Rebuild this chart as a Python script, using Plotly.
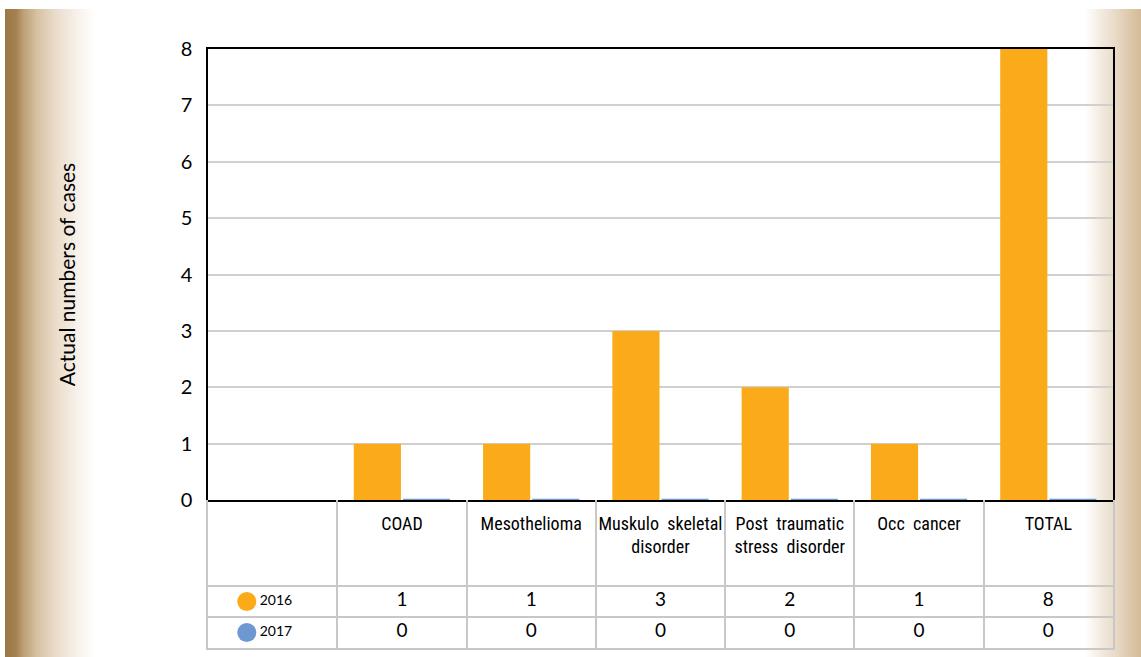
"""Occupational disease cases by type, 2016 vs 2017."""

import base64

import plotly.graph_objects as go

# data
categories = ["", "COAD", "Mesothelioma", "Muskulo skeletal disorder",
              "Post traumatic stress disorder", "Occ cancer", "TOTAL"]
header_labels = ["", "COAD", "Mesothelioma", "Muskulo  skeletal<br>disorder",
                 "Post  traumatic<br>stress  disorder", "Occ  cancer", "TOTAL"]
years = ["2016", "2017"]
cases_2016 = [None, 1, 1, 3, 2, 1, 8]
cases_2017 = [None, 0, 0, 0, 0, 0, 0]

COLORS = {"2016": "#FBAB1A", "2017": "#6E99D0"}
GRID = "#C8C8C8"

# the snapshot comes out squeezed vertically by 657/669, so lay out in a
# slightly taller page and let the squeeze bring it back
SY = 669 / 657
W, H = 1141, round(657 * SY)
M = dict(l=208, r=28, t=round(48 * SY), b=round(10 * SY))
PW = W - M["l"] - M["r"]
PH = H - M["t"] - M["b"]

# table geometry (pixels): header row + one row per year
HEADER_H, ROW_H = 86 * SY, 31 * SY
TABLE_H = HEADER_H + ROW_H * len(years)
table_top = TABLE_H / PH
row_mid = [TABLE_H - HEADER_H - ROW_H * (i + 0.5) for i in range(len(years))]
LEGEND_X = -0.2

# bars sit on a linear axis (category index) so the zero bars can get a line
cat_pos = list(range(len(categories)))


def px_x(x):
    return (x - M["l"]) / PW


def px_y(y):
    return (H - M["b"] - y * SY) / PH


def gradient_svg(stops, reverse=False):
    st = "".join(f'<stop offset="{o}" stop-color="{c}"/>' for o, c in stops)
    x1, x2 = ("1", "0") if reverse else ("0", "1")
    svg = (
        '<svg xmlns="http://www.w3.org/2000/svg" width="100" height="100" '
        'preserveAspectRatio="none" viewBox="0 0 100 100">'
        f'<defs><linearGradient id="g" x1="{x1}" y1="0" x2="{x2}" y2="0">{st}'
        '</linearGradient></defs><rect width="100" height="100" fill="url(#g)"/></svg>'
    )
    return "data:image/svg+xml;base64," + base64.b64encode(svg.encode()).decode()


left_stops = [(0, "#9C7746"), (0.12, "#A5804F"), (0.2, "#BC9E76"),
              (0.35, "#D6C0A0"), (0.55, "#E9DBC8"), (0.8, "#F7F1EA"), (1, "#FFFFFF")]
right_stops = [(0, "#D3BB98"), (0.2, "#DCC8AB"), (0.45, "#E8DAC6"),
               (0.75, "#F4EDE4"), (1, "#FFFFFF")]

HEAD_FONT = dict(family="Roboto Condensed, Liberation Sans Narrow, "
                        "DejaVu Sans Condensed, Roboto, sans-serif",
                 size=18, color="black")
NUM_FONT = dict(family="Lato, sans-serif", size=19, color="black")

fig = go.Figure()

# data table underneath (drawn first so the chart's zero line sits on top)
fig.add_trace(go.Scatter(
    x=categories[1:], y=[TABLE_H - 16 * SY] * (len(categories) - 1),
    text=header_labels[1:], mode="text", textposition="bottom center",
    textfont=HEAD_FONT, xaxis="x2", yaxis="y2", hoverinfo="skip",
))
for i, vals in enumerate([cases_2016, cases_2017]):
    fig.add_trace(go.Scatter(
        x=categories[1:], y=[row_mid[i]] * (len(categories) - 1),
        text=[str(v) for v in vals[1:]], mode="text",
        textposition="middle center", textfont=NUM_FONT,
        xaxis="x2", yaxis="y2", hoverinfo="skip",
    ))
fig.add_trace(go.Scatter(
    x=[LEGEND_X] * len(years), y=row_mid, text=years,
    mode="markers+text", textposition="middle right",
    marker=dict(size=19, color=[COLORS[y] for y in years]),
    textfont=dict(family="Lato, sans-serif", size=14, color="black"),
    xaxis="x3", yaxis="y2", hoverinfo="skip",
))

# bars
fig.add_trace(go.Bar(
    x=cat_pos, y=cases_2016, name="2016",
    marker=dict(color=COLORS["2016"], line=dict(width=0)),
))
fig.add_trace(go.Bar(
    x=cat_pos, y=cases_2017, name="2017",
    marker=dict(color=COLORS["2017"], line=dict(width=0)),
    # zero-height bars still show as a thin line in the original
    error_x=dict(type="constant", value=0.182, thickness=2.5, width=0,
                 color=COLORS["2017"]),
))

fig.update_layout(
    width=W, height=H,
    autosize=False,
    margin=M,
    paper_bgcolor="white",
    plot_bgcolor="rgba(0,0,0,0)",
    barmode="group",
    bargap=0.24,
    bargroupgap=0.04,
    showlegend=False,
    font=dict(family="Lato, sans-serif", color="black"),
    xaxis=dict(
        range=[-0.5, 6.5], showticklabels=False,
        showline=True, linecolor="black", linewidth=1.5, mirror=True,
        showgrid=False, zeroline=False, ticks="", layer="below traces",
    ),
    yaxis=dict(
        domain=[table_top, 1], range=[0, 8], dtick=1,
        showline=True, linecolor="black", linewidth=1.5, mirror=True,
        gridcolor="#D0D0D0", gridwidth=1.5, zeroline=False,
        tickfont=dict(size=20, color="black"), ticklabelstandoff=10,
        title=dict(text="Actual numbers of cases", standoff=99,
                   font=dict(size=21, color="black")),
    ),
    xaxis2=dict(
        type="category", range=[-0.5, 6.5], anchor="y2",
        categoryorder="array", categoryarray=categories,
        tickson="boundaries", showgrid=True, gridcolor=GRID, gridwidth=2,
        showline=True, linecolor=GRID, linewidth=2, mirror=False,
        showticklabels=False, ticks="",
    ),
    xaxis3=dict(
        range=[-0.5, 6.5], overlaying="x2", anchor="y2", visible=False,
    ),
    yaxis2=dict(
        domain=[0, table_top], range=[0, TABLE_H], anchor="x2",
        tickvals=[ROW_H * k for k in range(1, len(years) + 1)],
        showgrid=True, gridcolor=GRID, gridwidth=2, zeroline=False,
        showline=True, linecolor=GRID, linewidth=2, mirror=True,
        showticklabels=False, ticks="",
    ),
    images=[
        dict(source=gradient_svg(left_stops), xref="paper", yref="paper",
             x=px_x(5), y=px_y(8), sizex=px_x(95) - px_x(5),
             sizey=px_y(8) - px_y(657), xanchor="left", yanchor="top",
             sizing="stretch", layer="below"),
        dict(source=gradient_svg(right_stops, reverse=True), xref="paper", yref="paper",
             x=px_x(1085), y=px_y(8), sizex=px_x(1141) - px_x(1085),
             sizey=px_y(8) - px_y(657), xanchor="left", yanchor="top",
             sizing="stretch", layer="below"),
    ],
)

# the page is photographed edge to edge, so drop the default body margin
fig.write_html(
    "out.html",
    config={"displayModeBar": False, "responsive": False},
    post_script="document.body.style.margin='0';",
)
